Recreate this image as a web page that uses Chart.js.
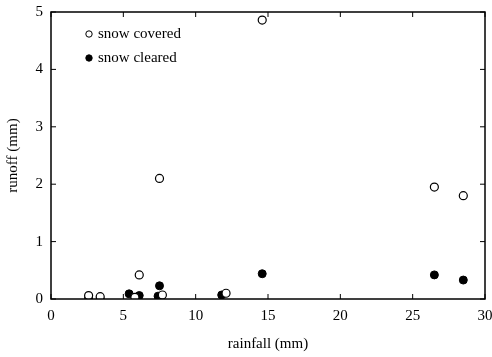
<!DOCTYPE html>
<html>
<head>
<meta charset="utf-8">
<script src="https://cdn.jsdelivr.net/npm/chart.js@4.4.0/dist/chart.umd.min.js"></script>
<style>
  html, body { margin: 0; padding: 0; background: #fff; }
  #wrap { width: 492px; height: 357px; }
</style>
</head>
<body>
<div id="wrap"><canvas id="runoff-chart"></canvas></div>

<script>
// rainfall (mm) vs runoff (mm)
var coveredRain   = [14.6, 7.5, 26.5, 28.5, 6.1, 7.7, 12.1, 2.6, 3.4, 5.8];
var coveredRunoff = [4.86, 2.1, 1.95, 1.8, 0.42, 0.07, 0.1, 0.06, 0.04, 0.03];
var clearedRain   = [14.6, 26.5, 28.5, 7.5, 7.4, 5.4, 6.1, 2.6, 3.4, 11.8];
var clearedRunoff = [0.44, 0.42, 0.33, 0.23, 0.05, 0.09, 0.06, 0.02, 0.0, 0.07];
var xTicks = [0, 5, 10, 15, 20, 25, 30];
var yTicks = [0, 1, 2, 3, 4, 5];

function toPoints(xs, ys) {
  var pts = [];
  xs.forEach(function (x, i) { pts.push({ x: x, y: ys[i] }); });
  return pts;
}

var serif = "'Liberation Serif', 'DejaVu Serif', serif";

// frame, inward ticks and the legend inside the plot
var framePlugin = {
  id: 'frame',
  afterDraw: function (chart) {
    var ctx = chart.ctx, a = chart.chartArea;
    var xs = chart.scales.x, ys = chart.scales.y;
    ctx.save();
    ctx.strokeStyle = '#000';
    ctx.lineWidth = 1.5;
    ctx.strokeRect(a.left, a.top, a.right - a.left, a.bottom - a.top);
    ctx.lineWidth = 1;
    ctx.beginPath();
    xTicks.forEach(function (v) {
      var px = xs.getPixelForValue(v);
      ctx.moveTo(px, a.bottom); ctx.lineTo(px, a.bottom - 5);
      ctx.moveTo(px, a.top); ctx.lineTo(px, a.top + 5);
    });
    yTicks.forEach(function (v) {
      var py = ys.getPixelForValue(v);
      ctx.moveTo(a.left, py); ctx.lineTo(a.left + 5, py);
      ctx.moveTo(a.right, py); ctx.lineTo(a.right - 5, py);
    });
    ctx.stroke();

    // legend
    ctx.font = '15px ' + serif;
    ctx.textBaseline = 'middle';
    chart.data.datasets.forEach(function (ds, i) {
      var lx = a.left + 38, ly = a.top + 22 + i * 24;
      ctx.beginPath();
      ctx.arc(lx, ly, 3.2, 0, Math.PI * 2);
      ctx.fillStyle = ds.backgroundColor;
      ctx.fill();
      ctx.lineWidth = 1;
      ctx.strokeStyle = '#000';
      ctx.stroke();
      ctx.fillStyle = '#000';
      ctx.fillText(ds.label, lx + 9, ly);
    });
    ctx.restore();
  }
};

var ctxRun = document.getElementById('runoff-chart');

var runoff = new Chart(ctxRun, {
  type: 'scatter',
  data: {
    datasets: [{
      label: 'snow covered',
      data: toPoints(coveredRain, coveredRunoff),
      backgroundColor: '#fff',
      borderColor: '#000',
      borderWidth: 1.2,
      pointRadius: 4
    }, {
      label: 'snow cleared',
      data: toPoints(clearedRain, clearedRunoff),
      backgroundColor: '#000',
      borderColor: '#000',
      borderWidth: 1,
      pointRadius: 4
    }]
  },
  options: {
    responsive: true,
    maintainAspectRatio: false,
    animation: false,
    layout: { padding: { top: 12, right: 7, left: 0, bottom: 0 } },
    plugins: { legend: { display: false }, tooltip: { enabled: false } },
    scales: {
      x: {
        min: 0, max: 30,
        afterBuildTicks: function (s) { s.ticks = xTicks.map(function (v) { return { value: v }; }); },
        afterFit: function (s) { s.height = 58; s.paddingLeft = 0; s.paddingRight = 0; },
        grid: { display: false, drawTicks: false },
        border: { display: false },
        ticks: { color: '#000', padding: 8, font: { family: serif, size: 15 } },
        title: { display: true, text: 'rainfall (mm)', color: '#000',
                 font: { family: serif, size: 15 }, padding: { top: 12 } }
      },
      y: {
        min: 0, max: 5,
        afterBuildTicks: function (s) { s.ticks = yTicks.map(function (v) { return { value: v }; }); },
        afterFit: function (s) { s.width = 51; s.paddingTop = 0; s.paddingBottom = 0; },
        grid: { display: false, drawTicks: false },
        border: { display: false },
        ticks: { color: '#000', padding: 8, font: { family: serif, size: 15 } },
        title: { display: true, text: 'runoff (mm)', color: '#000',
                 font: { family: serif, size: 15 }, padding: { bottom: 4 } }
      }
    }
  },
  plugins: [framePlugin]
});
</script>
</body>
</html>
